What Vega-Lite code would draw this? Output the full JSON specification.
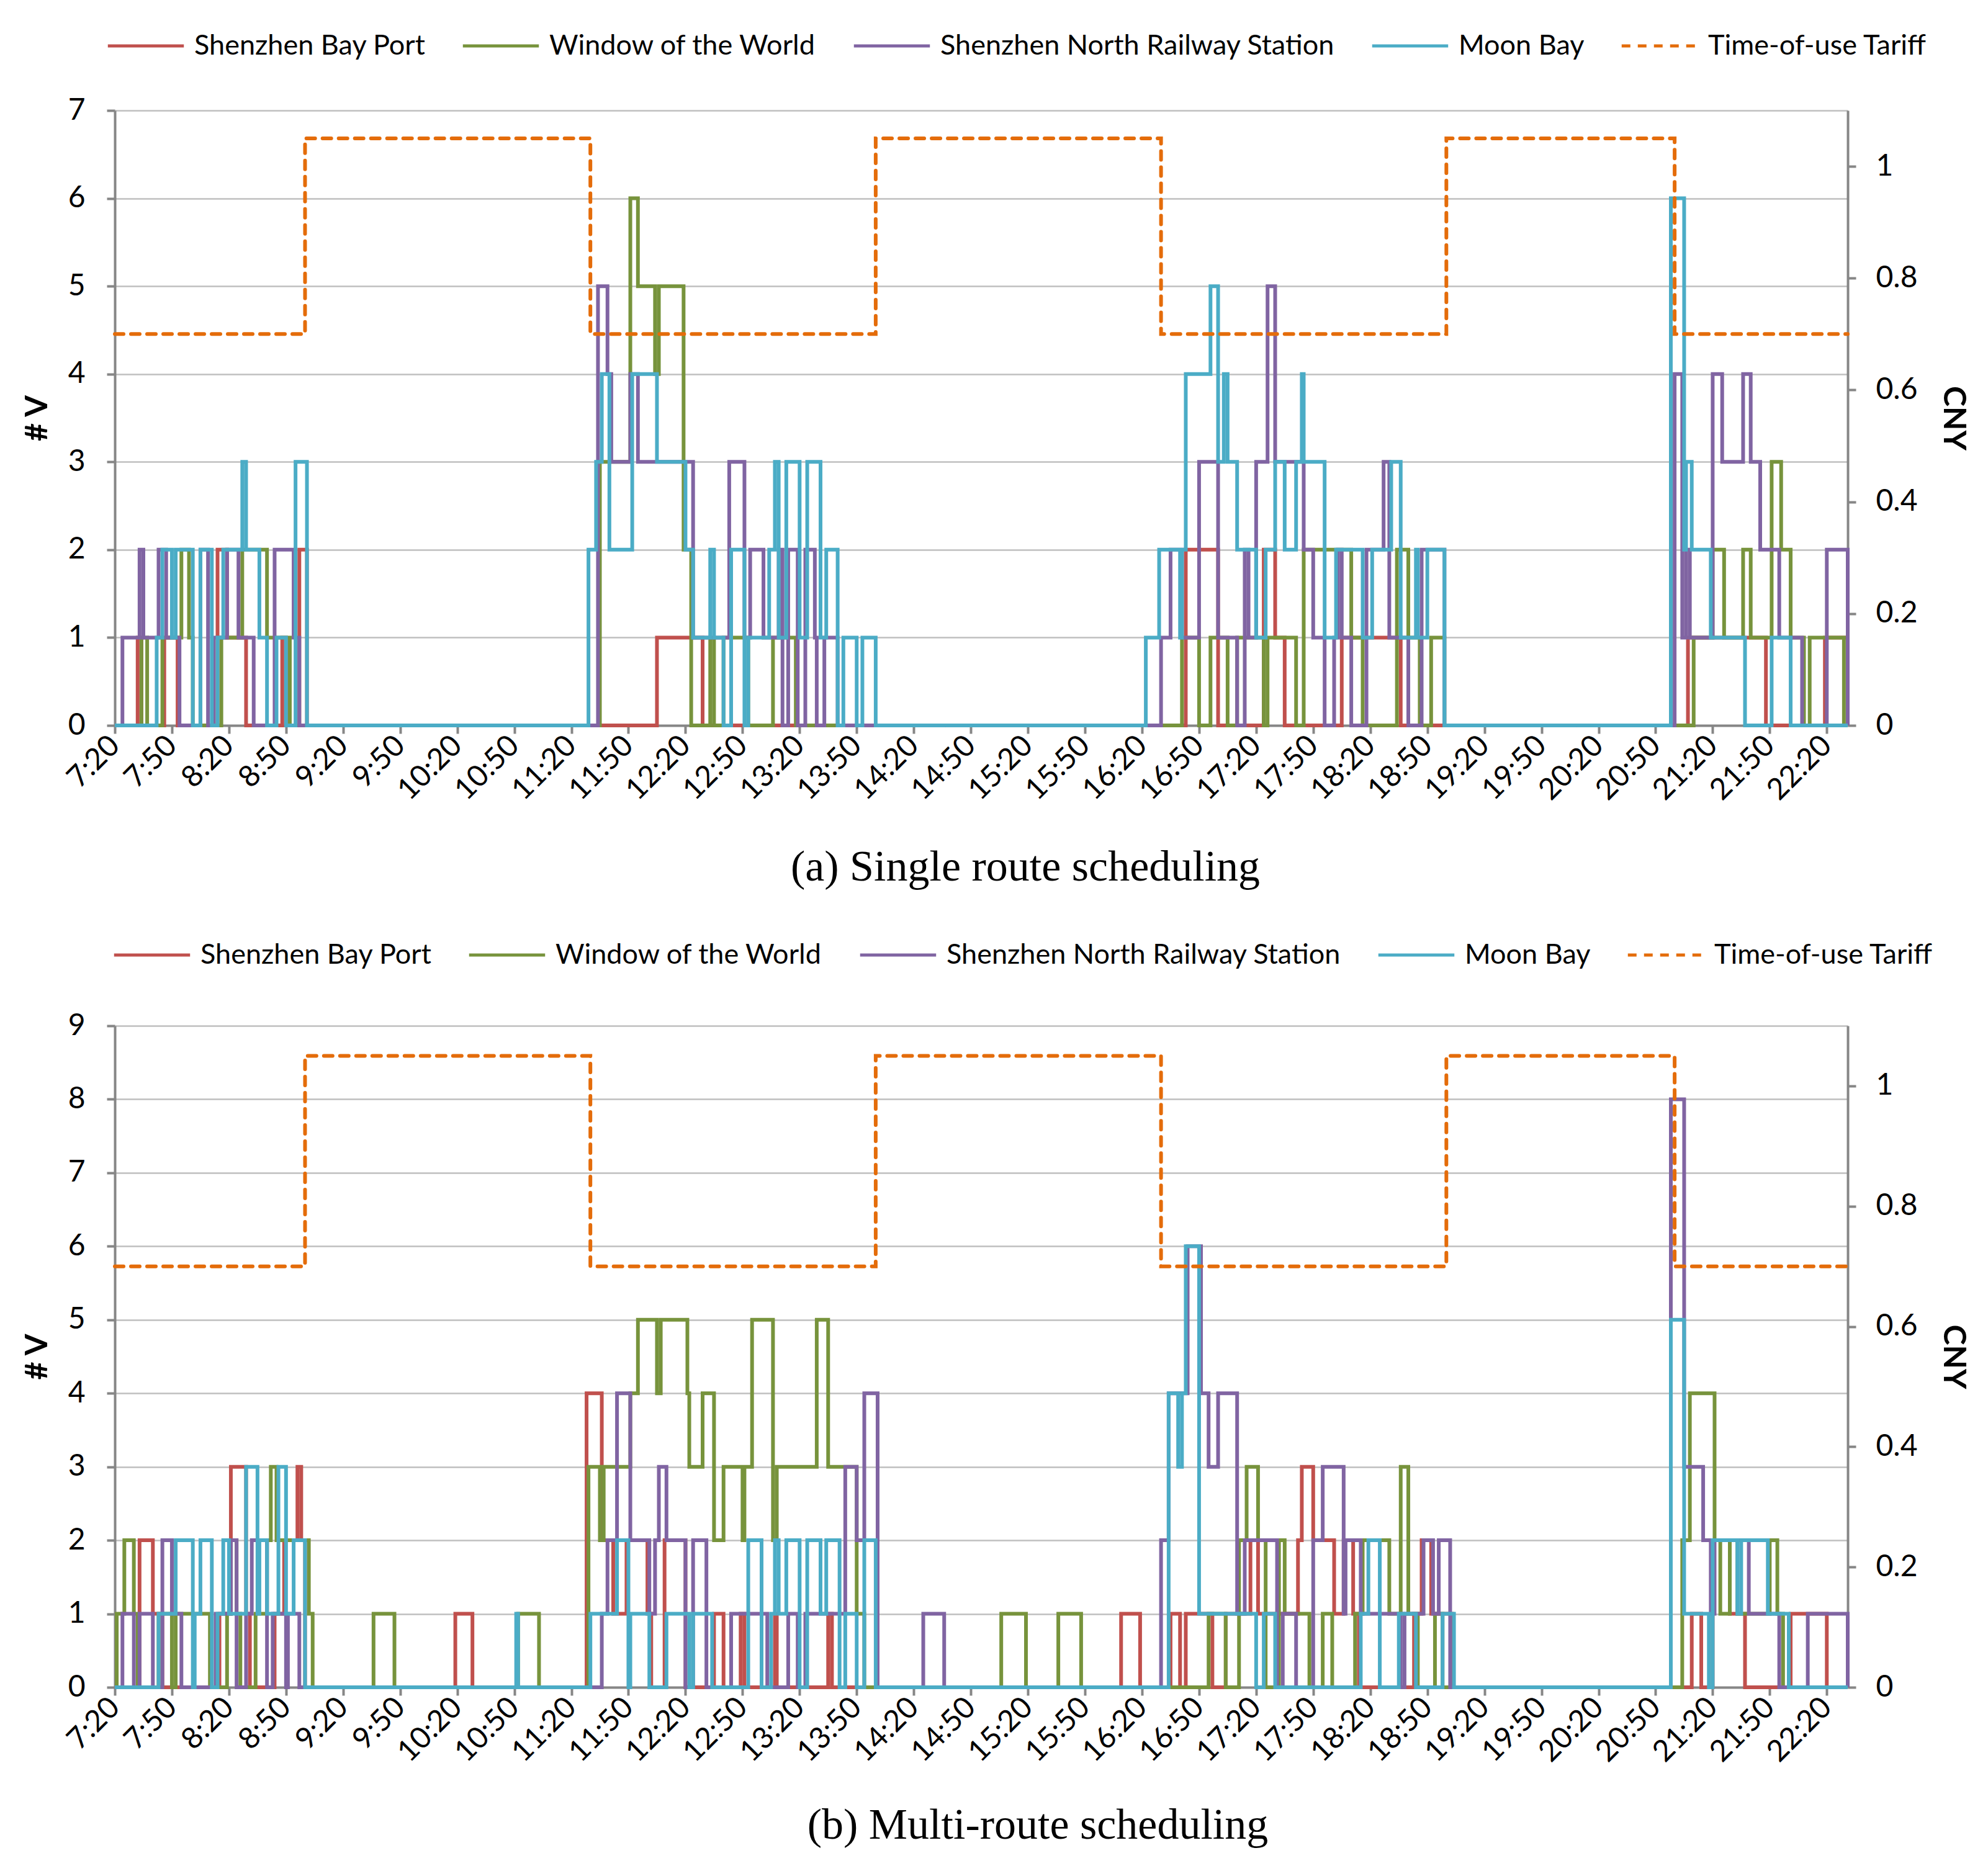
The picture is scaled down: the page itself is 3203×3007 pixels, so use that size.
{
  "$schema": "https://vega.github.io/schema/vega-lite/v6.json",
  "background": "white",
  "padding": {"left": 35, "top": 10, "right": 10, "bottom": 20},
  "spacing": 41,
  "datasets": {
    "tariff": [
      {"s": "Time-of-use Tariff", "m": 0, "p": 0.7},
      {"s": "Time-of-use Tariff", "m": 100, "p": 1.05},
      {"s": "Time-of-use Tariff", "m": 250, "p": 0.7},
      {"s": "Time-of-use Tariff", "m": 400, "p": 1.05},
      {"s": "Time-of-use Tariff", "m": 550, "p": 0.7},
      {"s": "Time-of-use Tariff", "m": 700, "p": 1.05},
      {"s": "Time-of-use Tariff", "m": 820, "p": 0.7},
      {"s": "Time-of-use Tariff", "m": 911, "p": 0.7}
    ],
    "a": [
      {"s": "Shenzhen Bay Port", "m": 0, "v": 0},
      {"s": "Shenzhen Bay Port", "m": 12, "v": 1},
      {"s": "Shenzhen Bay Port", "m": 14, "v": 0},
      {"s": "Shenzhen Bay Port", "m": 26, "v": 1},
      {"s": "Shenzhen Bay Port", "m": 33, "v": 0},
      {"s": "Shenzhen Bay Port", "m": 54, "v": 2},
      {"s": "Shenzhen Bay Port", "m": 59, "v": 1},
      {"s": "Shenzhen Bay Port", "m": 69, "v": 0},
      {"s": "Shenzhen Bay Port", "m": 88, "v": 1},
      {"s": "Shenzhen Bay Port", "m": 90, "v": 0},
      {"s": "Shenzhen Bay Port", "m": 97, "v": 2},
      {"s": "Shenzhen Bay Port", "m": 101, "v": 0},
      {"s": "Shenzhen Bay Port", "m": 285, "v": 1},
      {"s": "Shenzhen Bay Port", "m": 309, "v": 0},
      {"s": "Shenzhen Bay Port", "m": 563, "v": 2},
      {"s": "Shenzhen Bay Port", "m": 580, "v": 0},
      {"s": "Shenzhen Bay Port", "m": 604, "v": 2},
      {"s": "Shenzhen Bay Port", "m": 610, "v": 1},
      {"s": "Shenzhen Bay Port", "m": 615, "v": 0},
      {"s": "Shenzhen Bay Port", "m": 645, "v": 1},
      {"s": "Shenzhen Bay Port", "m": 676, "v": 0},
      {"s": "Shenzhen Bay Port", "m": 827, "v": 1},
      {"s": "Shenzhen Bay Port", "m": 868, "v": 0},
      {"s": "Shenzhen Bay Port", "m": 899, "v": 1},
      {"s": "Shenzhen Bay Port", "m": 911, "v": 1},

      {"s": "Window of the World", "m": 0, "v": 0},
      {"s": "Window of the World", "m": 14, "v": 1},
      {"s": "Window of the World", "m": 17, "v": 0},
      {"s": "Window of the World", "m": 25, "v": 1},
      {"s": "Window of the World", "m": 35, "v": 2},
      {"s": "Window of the World", "m": 39, "v": 1},
      {"s": "Window of the World", "m": 41, "v": 0},
      {"s": "Window of the World", "m": 56, "v": 1},
      {"s": "Window of the World", "m": 67, "v": 2},
      {"s": "Window of the World", "m": 80, "v": 1},
      {"s": "Window of the World", "m": 92, "v": 0},
      {"s": "Window of the World", "m": 255, "v": 3},
      {"s": "Window of the World", "m": 271, "v": 6},
      {"s": "Window of the World", "m": 275, "v": 5},
      {"s": "Window of the World", "m": 284, "v": 4},
      {"s": "Window of the World", "m": 286, "v": 5},
      {"s": "Window of the World", "m": 299, "v": 2},
      {"s": "Window of the World", "m": 303, "v": 0},
      {"s": "Window of the World", "m": 313, "v": 1},
      {"s": "Window of the World", "m": 315, "v": 0},
      {"s": "Window of the World", "m": 320, "v": 1},
      {"s": "Window of the World", "m": 333, "v": 0},
      {"s": "Window of the World", "m": 346, "v": 1},
      {"s": "Window of the World", "m": 358, "v": 0},
      {"s": "Window of the World", "m": 561, "v": 1},
      {"s": "Window of the World", "m": 570, "v": 0},
      {"s": "Window of the World", "m": 576, "v": 1},
      {"s": "Window of the World", "m": 585, "v": 0},
      {"s": "Window of the World", "m": 590, "v": 1},
      {"s": "Window of the World", "m": 604, "v": 0},
      {"s": "Window of the World", "m": 606, "v": 1},
      {"s": "Window of the World", "m": 621, "v": 0},
      {"s": "Window of the World", "m": 625, "v": 2},
      {"s": "Window of the World", "m": 650, "v": 1},
      {"s": "Window of the World", "m": 656, "v": 0},
      {"s": "Window of the World", "m": 674, "v": 2},
      {"s": "Window of the World", "m": 680, "v": 1},
      {"s": "Window of the World", "m": 686, "v": 0},
      {"s": "Window of the World", "m": 692, "v": 1},
      {"s": "Window of the World", "m": 699, "v": 0},
      {"s": "Window of the World", "m": 830, "v": 1},
      {"s": "Window of the World", "m": 840, "v": 2},
      {"s": "Window of the World", "m": 846, "v": 1},
      {"s": "Window of the World", "m": 856, "v": 2},
      {"s": "Window of the World", "m": 860, "v": 1},
      {"s": "Window of the World", "m": 871, "v": 3},
      {"s": "Window of the World", "m": 876, "v": 2},
      {"s": "Window of the World", "m": 881, "v": 1},
      {"s": "Window of the World", "m": 888, "v": 0},
      {"s": "Window of the World", "m": 891, "v": 1},
      {"s": "Window of the World", "m": 909, "v": 0},
      {"s": "Window of the World", "m": 911, "v": 0},

      {"s": "Shenzhen North Railway Station", "m": 0, "v": 0},
      {"s": "Shenzhen North Railway Station", "m": 4, "v": 1},
      {"s": "Shenzhen North Railway Station", "m": 13, "v": 2},
      {"s": "Shenzhen North Railway Station", "m": 15, "v": 1},
      {"s": "Shenzhen North Railway Station", "m": 23, "v": 2},
      {"s": "Shenzhen North Railway Station", "m": 27, "v": 1},
      {"s": "Shenzhen North Railway Station", "m": 34, "v": 0},
      {"s": "Shenzhen North Railway Station", "m": 45, "v": 2},
      {"s": "Shenzhen North Railway Station", "m": 49, "v": 0},
      {"s": "Shenzhen North Railway Station", "m": 52, "v": 1},
      {"s": "Shenzhen North Railway Station", "m": 59, "v": 2},
      {"s": "Shenzhen North Railway Station", "m": 65, "v": 1},
      {"s": "Shenzhen North Railway Station", "m": 73, "v": 0},
      {"s": "Shenzhen North Railway Station", "m": 84, "v": 2},
      {"s": "Shenzhen North Railway Station", "m": 94, "v": 1},
      {"s": "Shenzhen North Railway Station", "m": 97, "v": 0},
      {"s": "Shenzhen North Railway Station", "m": 254, "v": 5},
      {"s": "Shenzhen North Railway Station", "m": 259, "v": 4},
      {"s": "Shenzhen North Railway Station", "m": 261, "v": 3},
      {"s": "Shenzhen North Railway Station", "m": 271, "v": 4},
      {"s": "Shenzhen North Railway Station", "m": 275, "v": 3},
      {"s": "Shenzhen North Railway Station", "m": 304, "v": 1},
      {"s": "Shenzhen North Railway Station", "m": 323, "v": 3},
      {"s": "Shenzhen North Railway Station", "m": 331, "v": 1},
      {"s": "Shenzhen North Railway Station", "m": 334, "v": 2},
      {"s": "Shenzhen North Railway Station", "m": 341, "v": 1},
      {"s": "Shenzhen North Railway Station", "m": 349, "v": 2},
      {"s": "Shenzhen North Railway Station", "m": 351, "v": 0},
      {"s": "Shenzhen North Railway Station", "m": 354, "v": 2},
      {"s": "Shenzhen North Railway Station", "m": 359, "v": 0},
      {"s": "Shenzhen North Railway Station", "m": 363, "v": 2},
      {"s": "Shenzhen North Railway Station", "m": 368, "v": 1},
      {"s": "Shenzhen North Railway Station", "m": 369, "v": 0},
      {"s": "Shenzhen North Railway Station", "m": 373, "v": 1},
      {"s": "Shenzhen North Railway Station", "m": 380, "v": 0},
      {"s": "Shenzhen North Railway Station", "m": 550, "v": 1},
      {"s": "Shenzhen North Railway Station", "m": 555, "v": 2},
      {"s": "Shenzhen North Railway Station", "m": 561, "v": 1},
      {"s": "Shenzhen North Railway Station", "m": 570, "v": 3},
      {"s": "Shenzhen North Railway Station", "m": 580, "v": 1},
      {"s": "Shenzhen North Railway Station", "m": 590, "v": 0},
      {"s": "Shenzhen North Railway Station", "m": 594, "v": 2},
      {"s": "Shenzhen North Railway Station", "m": 596, "v": 1},
      {"s": "Shenzhen North Railway Station", "m": 600, "v": 3},
      {"s": "Shenzhen North Railway Station", "m": 606, "v": 5},
      {"s": "Shenzhen North Railway Station", "m": 610, "v": 3},
      {"s": "Shenzhen North Railway Station", "m": 625, "v": 2},
      {"s": "Shenzhen North Railway Station", "m": 630, "v": 1},
      {"s": "Shenzhen North Railway Station", "m": 636, "v": 0},
      {"s": "Shenzhen North Railway Station", "m": 641, "v": 1},
      {"s": "Shenzhen North Railway Station", "m": 643, "v": 2},
      {"s": "Shenzhen North Railway Station", "m": 645, "v": 1},
      {"s": "Shenzhen North Railway Station", "m": 650, "v": 0},
      {"s": "Shenzhen North Railway Station", "m": 658, "v": 2},
      {"s": "Shenzhen North Railway Station", "m": 667, "v": 3},
      {"s": "Shenzhen North Railway Station", "m": 670, "v": 1},
      {"s": "Shenzhen North Railway Station", "m": 680, "v": 0},
      {"s": "Shenzhen North Railway Station", "m": 687, "v": 2},
      {"s": "Shenzhen North Railway Station", "m": 699, "v": 0},
      {"s": "Shenzhen North Railway Station", "m": 820, "v": 4},
      {"s": "Shenzhen North Railway Station", "m": 824, "v": 1},
      {"s": "Shenzhen North Railway Station", "m": 826, "v": 2},
      {"s": "Shenzhen North Railway Station", "m": 828, "v": 1},
      {"s": "Shenzhen North Railway Station", "m": 840, "v": 4},
      {"s": "Shenzhen North Railway Station", "m": 845, "v": 3},
      {"s": "Shenzhen North Railway Station", "m": 856, "v": 4},
      {"s": "Shenzhen North Railway Station", "m": 860, "v": 3},
      {"s": "Shenzhen North Railway Station", "m": 865, "v": 2},
      {"s": "Shenzhen North Railway Station", "m": 875, "v": 1},
      {"s": "Shenzhen North Railway Station", "m": 887, "v": 0},
      {"s": "Shenzhen North Railway Station", "m": 900, "v": 2},
      {"s": "Shenzhen North Railway Station", "m": 911, "v": 0},

      {"s": "Moon Bay", "m": 0, "v": 0},
      {"s": "Moon Bay", "m": 22, "v": 1},
      {"s": "Moon Bay", "m": 25, "v": 2},
      {"s": "Moon Bay", "m": 30, "v": 1},
      {"s": "Moon Bay", "m": 32, "v": 2},
      {"s": "Moon Bay", "m": 41, "v": 0},
      {"s": "Moon Bay", "m": 45, "v": 2},
      {"s": "Moon Bay", "m": 51, "v": 0},
      {"s": "Moon Bay", "m": 54, "v": 1},
      {"s": "Moon Bay", "m": 57, "v": 2},
      {"s": "Moon Bay", "m": 67, "v": 3},
      {"s": "Moon Bay", "m": 69, "v": 2},
      {"s": "Moon Bay", "m": 76, "v": 1},
      {"s": "Moon Bay", "m": 80, "v": 0},
      {"s": "Moon Bay", "m": 85, "v": 1},
      {"s": "Moon Bay", "m": 90, "v": 0},
      {"s": "Moon Bay", "m": 95, "v": 3},
      {"s": "Moon Bay", "m": 101, "v": 0},
      {"s": "Moon Bay", "m": 249, "v": 2},
      {"s": "Moon Bay", "m": 253, "v": 3},
      {"s": "Moon Bay", "m": 256, "v": 4},
      {"s": "Moon Bay", "m": 260, "v": 2},
      {"s": "Moon Bay", "m": 272, "v": 4},
      {"s": "Moon Bay", "m": 285, "v": 3},
      {"s": "Moon Bay", "m": 300, "v": 2},
      {"s": "Moon Bay", "m": 304, "v": 1},
      {"s": "Moon Bay", "m": 313, "v": 2},
      {"s": "Moon Bay", "m": 315, "v": 1},
      {"s": "Moon Bay", "m": 320, "v": 0},
      {"s": "Moon Bay", "m": 324, "v": 2},
      {"s": "Moon Bay", "m": 331, "v": 0},
      {"s": "Moon Bay", "m": 333, "v": 1},
      {"s": "Moon Bay", "m": 344, "v": 2},
      {"s": "Moon Bay", "m": 347, "v": 3},
      {"s": "Moon Bay", "m": 349, "v": 1},
      {"s": "Moon Bay", "m": 353, "v": 3},
      {"s": "Moon Bay", "m": 360, "v": 1},
      {"s": "Moon Bay", "m": 364, "v": 3},
      {"s": "Moon Bay", "m": 371, "v": 1},
      {"s": "Moon Bay", "m": 374, "v": 2},
      {"s": "Moon Bay", "m": 380, "v": 0},
      {"s": "Moon Bay", "m": 383, "v": 1},
      {"s": "Moon Bay", "m": 390, "v": 0},
      {"s": "Moon Bay", "m": 393, "v": 1},
      {"s": "Moon Bay", "m": 400, "v": 0},
      {"s": "Moon Bay", "m": 542, "v": 1},
      {"s": "Moon Bay", "m": 549, "v": 2},
      {"s": "Moon Bay", "m": 560, "v": 1},
      {"s": "Moon Bay", "m": 561, "v": 2},
      {"s": "Moon Bay", "m": 563, "v": 4},
      {"s": "Moon Bay", "m": 576, "v": 5},
      {"s": "Moon Bay", "m": 580, "v": 3},
      {"s": "Moon Bay", "m": 583, "v": 4},
      {"s": "Moon Bay", "m": 585, "v": 3},
      {"s": "Moon Bay", "m": 590, "v": 2},
      {"s": "Moon Bay", "m": 600, "v": 1},
      {"s": "Moon Bay", "m": 605, "v": 2},
      {"s": "Moon Bay", "m": 610, "v": 3},
      {"s": "Moon Bay", "m": 615, "v": 2},
      {"s": "Moon Bay", "m": 621, "v": 3},
      {"s": "Moon Bay", "m": 624, "v": 4},
      {"s": "Moon Bay", "m": 625, "v": 3},
      {"s": "Moon Bay", "m": 636, "v": 1},
      {"s": "Moon Bay", "m": 642, "v": 2},
      {"s": "Moon Bay", "m": 656, "v": 1},
      {"s": "Moon Bay", "m": 661, "v": 2},
      {"s": "Moon Bay", "m": 671, "v": 3},
      {"s": "Moon Bay", "m": 676, "v": 1},
      {"s": "Moon Bay", "m": 684, "v": 2},
      {"s": "Moon Bay", "m": 685, "v": 1},
      {"s": "Moon Bay", "m": 690, "v": 2},
      {"s": "Moon Bay", "m": 699, "v": 0},
      {"s": "Moon Bay", "m": 818, "v": 6},
      {"s": "Moon Bay", "m": 825, "v": 2},
      {"s": "Moon Bay", "m": 826, "v": 3},
      {"s": "Moon Bay", "m": 829, "v": 2},
      {"s": "Moon Bay", "m": 839, "v": 1},
      {"s": "Moon Bay", "m": 857, "v": 0},
      {"s": "Moon Bay", "m": 871, "v": 1},
      {"s": "Moon Bay", "m": 881, "v": 0},
      {"s": "Moon Bay", "m": 911, "v": 0}
    ],
    "b": [
      {"s": "Shenzhen Bay Port", "m": 0, "v": 0},
      {"s": "Shenzhen Bay Port", "m": 13, "v": 2},
      {"s": "Shenzhen Bay Port", "m": 20, "v": 1},
      {"s": "Shenzhen Bay Port", "m": 25, "v": 0},
      {"s": "Shenzhen Bay Port", "m": 55, "v": 1},
      {"s": "Shenzhen Bay Port", "m": 61, "v": 3},
      {"s": "Shenzhen Bay Port", "m": 69, "v": 1},
      {"s": "Shenzhen Bay Port", "m": 71, "v": 0},
      {"s": "Shenzhen Bay Port", "m": 84, "v": 1},
      {"s": "Shenzhen Bay Port", "m": 89, "v": 2},
      {"s": "Shenzhen Bay Port", "m": 96, "v": 3},
      {"s": "Shenzhen Bay Port", "m": 98, "v": 2},
      {"s": "Shenzhen Bay Port", "m": 100, "v": 0},
      {"s": "Shenzhen Bay Port", "m": 179, "v": 1},
      {"s": "Shenzhen Bay Port", "m": 188, "v": 0},
      {"s": "Shenzhen Bay Port", "m": 248, "v": 4},
      {"s": "Shenzhen Bay Port", "m": 256, "v": 2},
      {"s": "Shenzhen Bay Port", "m": 262, "v": 1},
      {"s": "Shenzhen Bay Port", "m": 269, "v": 2},
      {"s": "Shenzhen Bay Port", "m": 280, "v": 1},
      {"s": "Shenzhen Bay Port", "m": 282, "v": 0},
      {"s": "Shenzhen Bay Port", "m": 289, "v": 2},
      {"s": "Shenzhen Bay Port", "m": 300, "v": 0},
      {"s": "Shenzhen Bay Port", "m": 315, "v": 1},
      {"s": "Shenzhen Bay Port", "m": 320, "v": 0},
      {"s": "Shenzhen Bay Port", "m": 329, "v": 1},
      {"s": "Shenzhen Bay Port", "m": 331, "v": 0},
      {"s": "Shenzhen Bay Port", "m": 347, "v": 1},
      {"s": "Shenzhen Bay Port", "m": 348, "v": 0},
      {"s": "Shenzhen Bay Port", "m": 375, "v": 1},
      {"s": "Shenzhen Bay Port", "m": 377, "v": 0},
      {"s": "Shenzhen Bay Port", "m": 529, "v": 1},
      {"s": "Shenzhen Bay Port", "m": 539, "v": 0},
      {"s": "Shenzhen Bay Port", "m": 555, "v": 1},
      {"s": "Shenzhen Bay Port", "m": 560, "v": 0},
      {"s": "Shenzhen Bay Port", "m": 563, "v": 1},
      {"s": "Shenzhen Bay Port", "m": 577, "v": 0},
      {"s": "Shenzhen Bay Port", "m": 584, "v": 1},
      {"s": "Shenzhen Bay Port", "m": 597, "v": 2},
      {"s": "Shenzhen Bay Port", "m": 601, "v": 1},
      {"s": "Shenzhen Bay Port", "m": 622, "v": 2},
      {"s": "Shenzhen Bay Port", "m": 624, "v": 3},
      {"s": "Shenzhen Bay Port", "m": 630, "v": 2},
      {"s": "Shenzhen Bay Port", "m": 641, "v": 1},
      {"s": "Shenzhen Bay Port", "m": 646, "v": 2},
      {"s": "Shenzhen Bay Port", "m": 651, "v": 1},
      {"s": "Shenzhen Bay Port", "m": 654, "v": 0},
      {"s": "Shenzhen Bay Port", "m": 683, "v": 1},
      {"s": "Shenzhen Bay Port", "m": 687, "v": 2},
      {"s": "Shenzhen Bay Port", "m": 692, "v": 1},
      {"s": "Shenzhen Bay Port", "m": 703, "v": 0},
      {"s": "Shenzhen Bay Port", "m": 829, "v": 1},
      {"s": "Shenzhen Bay Port", "m": 834, "v": 0},
      {"s": "Shenzhen Bay Port", "m": 840, "v": 2},
      {"s": "Shenzhen Bay Port", "m": 849, "v": 1},
      {"s": "Shenzhen Bay Port", "m": 857, "v": 0},
      {"s": "Shenzhen Bay Port", "m": 881, "v": 1},
      {"s": "Shenzhen Bay Port", "m": 900, "v": 0},
      {"s": "Shenzhen Bay Port", "m": 911, "v": 0},

      {"s": "Window of the World", "m": 0, "v": 0},
      {"s": "Window of the World", "m": 1, "v": 1},
      {"s": "Window of the World", "m": 5, "v": 2},
      {"s": "Window of the World", "m": 10, "v": 1},
      {"s": "Window of the World", "m": 12, "v": 0},
      {"s": "Window of the World", "m": 23, "v": 1},
      {"s": "Window of the World", "m": 30, "v": 0},
      {"s": "Window of the World", "m": 32, "v": 1},
      {"s": "Window of the World", "m": 50, "v": 0},
      {"s": "Window of the World", "m": 59, "v": 1},
      {"s": "Window of the World", "m": 61, "v": 2},
      {"s": "Window of the World", "m": 64, "v": 1},
      {"s": "Window of the World", "m": 66, "v": 0},
      {"s": "Window of the World", "m": 74, "v": 1},
      {"s": "Window of the World", "m": 80, "v": 2},
      {"s": "Window of the World", "m": 82, "v": 3},
      {"s": "Window of the World", "m": 85, "v": 2},
      {"s": "Window of the World", "m": 102, "v": 1},
      {"s": "Window of the World", "m": 104, "v": 0},
      {"s": "Window of the World", "m": 136, "v": 1},
      {"s": "Window of the World", "m": 147, "v": 0},
      {"s": "Window of the World", "m": 212, "v": 1},
      {"s": "Window of the World", "m": 223, "v": 0},
      {"s": "Window of the World", "m": 249, "v": 3},
      {"s": "Window of the World", "m": 255, "v": 2},
      {"s": "Window of the World", "m": 257, "v": 3},
      {"s": "Window of the World", "m": 271, "v": 4},
      {"s": "Window of the World", "m": 275, "v": 5},
      {"s": "Window of the World", "m": 285, "v": 4},
      {"s": "Window of the World", "m": 287, "v": 5},
      {"s": "Window of the World", "m": 301, "v": 4},
      {"s": "Window of the World", "m": 302, "v": 3},
      {"s": "Window of the World", "m": 309, "v": 4},
      {"s": "Window of the World", "m": 315, "v": 2},
      {"s": "Window of the World", "m": 320, "v": 3},
      {"s": "Window of the World", "m": 330, "v": 2},
      {"s": "Window of the World", "m": 331, "v": 3},
      {"s": "Window of the World", "m": 335, "v": 5},
      {"s": "Window of the World", "m": 346, "v": 2},
      {"s": "Window of the World", "m": 348, "v": 3},
      {"s": "Window of the World", "m": 369, "v": 5},
      {"s": "Window of the World", "m": 375, "v": 3},
      {"s": "Window of the World", "m": 390, "v": 1},
      {"s": "Window of the World", "m": 394, "v": 0},
      {"s": "Window of the World", "m": 466, "v": 1},
      {"s": "Window of the World", "m": 479, "v": 0},
      {"s": "Window of the World", "m": 496, "v": 1},
      {"s": "Window of the World", "m": 508, "v": 0},
      {"s": "Window of the World", "m": 575, "v": 1},
      {"s": "Window of the World", "m": 584, "v": 0},
      {"s": "Window of the World", "m": 591, "v": 2},
      {"s": "Window of the World", "m": 595, "v": 3},
      {"s": "Window of the World", "m": 601, "v": 2},
      {"s": "Window of the World", "m": 605, "v": 0},
      {"s": "Window of the World", "m": 612, "v": 2},
      {"s": "Window of the World", "m": 615, "v": 1},
      {"s": "Window of the World", "m": 628, "v": 0},
      {"s": "Window of the World", "m": 635, "v": 1},
      {"s": "Window of the World", "m": 640, "v": 0},
      {"s": "Window of the World", "m": 652, "v": 1},
      {"s": "Window of the World", "m": 656, "v": 2},
      {"s": "Window of the World", "m": 670, "v": 1},
      {"s": "Window of the World", "m": 676, "v": 3},
      {"s": "Window of the World", "m": 680, "v": 1},
      {"s": "Window of the World", "m": 685, "v": 0},
      {"s": "Window of the World", "m": 694, "v": 1},
      {"s": "Window of the World", "m": 698, "v": 0},
      {"s": "Window of the World", "m": 824, "v": 2},
      {"s": "Window of the World", "m": 828, "v": 4},
      {"s": "Window of the World", "m": 841, "v": 2},
      {"s": "Window of the World", "m": 844, "v": 1},
      {"s": "Window of the World", "m": 849, "v": 2},
      {"s": "Window of the World", "m": 853, "v": 1},
      {"s": "Window of the World", "m": 870, "v": 2},
      {"s": "Window of the World", "m": 874, "v": 1},
      {"s": "Window of the World", "m": 877, "v": 0},
      {"s": "Window of the World", "m": 911, "v": 0},

      {"s": "Shenzhen North Railway Station", "m": 0, "v": 0},
      {"s": "Shenzhen North Railway Station", "m": 4, "v": 1},
      {"s": "Shenzhen North Railway Station", "m": 10, "v": 0},
      {"s": "Shenzhen North Railway Station", "m": 13, "v": 1},
      {"s": "Shenzhen North Railway Station", "m": 20, "v": 0},
      {"s": "Shenzhen North Railway Station", "m": 25, "v": 2},
      {"s": "Shenzhen North Railway Station", "m": 30, "v": 1},
      {"s": "Shenzhen North Railway Station", "m": 35, "v": 0},
      {"s": "Shenzhen North Railway Station", "m": 53, "v": 1},
      {"s": "Shenzhen North Railway Station", "m": 61, "v": 2},
      {"s": "Shenzhen North Railway Station", "m": 64, "v": 0},
      {"s": "Shenzhen North Railway Station", "m": 69, "v": 1},
      {"s": "Shenzhen North Railway Station", "m": 72, "v": 2},
      {"s": "Shenzhen North Railway Station", "m": 80, "v": 0},
      {"s": "Shenzhen North Railway Station", "m": 83, "v": 1},
      {"s": "Shenzhen North Railway Station", "m": 90, "v": 0},
      {"s": "Shenzhen North Railway Station", "m": 91, "v": 1},
      {"s": "Shenzhen North Railway Station", "m": 97, "v": 0},
      {"s": "Shenzhen North Railway Station", "m": 256, "v": 1},
      {"s": "Shenzhen North Railway Station", "m": 259, "v": 2},
      {"s": "Shenzhen North Railway Station", "m": 264, "v": 4},
      {"s": "Shenzhen North Railway Station", "m": 271, "v": 2},
      {"s": "Shenzhen North Railway Station", "m": 281, "v": 1},
      {"s": "Shenzhen North Railway Station", "m": 284, "v": 2},
      {"s": "Shenzhen North Railway Station", "m": 286, "v": 3},
      {"s": "Shenzhen North Railway Station", "m": 290, "v": 2},
      {"s": "Shenzhen North Railway Station", "m": 300, "v": 0},
      {"s": "Shenzhen North Railway Station", "m": 304, "v": 2},
      {"s": "Shenzhen North Railway Station", "m": 311, "v": 0},
      {"s": "Shenzhen North Railway Station", "m": 324, "v": 1},
      {"s": "Shenzhen North Railway Station", "m": 343, "v": 0},
      {"s": "Shenzhen North Railway Station", "m": 354, "v": 1},
      {"s": "Shenzhen North Railway Station", "m": 359, "v": 0},
      {"s": "Shenzhen North Railway Station", "m": 363, "v": 1},
      {"s": "Shenzhen North Railway Station", "m": 384, "v": 3},
      {"s": "Shenzhen North Railway Station", "m": 390, "v": 2},
      {"s": "Shenzhen North Railway Station", "m": 394, "v": 4},
      {"s": "Shenzhen North Railway Station", "m": 401, "v": 0},
      {"s": "Shenzhen North Railway Station", "m": 425, "v": 1},
      {"s": "Shenzhen North Railway Station", "m": 436, "v": 0},
      {"s": "Shenzhen North Railway Station", "m": 550, "v": 2},
      {"s": "Shenzhen North Railway Station", "m": 554, "v": 4},
      {"s": "Shenzhen North Railway Station", "m": 564, "v": 6},
      {"s": "Shenzhen North Railway Station", "m": 571, "v": 4},
      {"s": "Shenzhen North Railway Station", "m": 575, "v": 3},
      {"s": "Shenzhen North Railway Station", "m": 580, "v": 4},
      {"s": "Shenzhen North Railway Station", "m": 590, "v": 1},
      {"s": "Shenzhen North Railway Station", "m": 594, "v": 2},
      {"s": "Shenzhen North Railway Station", "m": 611, "v": 0},
      {"s": "Shenzhen North Railway Station", "m": 614, "v": 1},
      {"s": "Shenzhen North Railway Station", "m": 621, "v": 0},
      {"s": "Shenzhen North Railway Station", "m": 630, "v": 2},
      {"s": "Shenzhen North Railway Station", "m": 635, "v": 3},
      {"s": "Shenzhen North Railway Station", "m": 646, "v": 1},
      {"s": "Shenzhen North Railway Station", "m": 647, "v": 2},
      {"s": "Shenzhen North Railway Station", "m": 655, "v": 1},
      {"s": "Shenzhen North Railway Station", "m": 676, "v": 0},
      {"s": "Shenzhen North Railway Station", "m": 678, "v": 1},
      {"s": "Shenzhen North Railway Station", "m": 688, "v": 2},
      {"s": "Shenzhen North Railway Station", "m": 693, "v": 1},
      {"s": "Shenzhen North Railway Station", "m": 696, "v": 2},
      {"s": "Shenzhen North Railway Station", "m": 702, "v": 0},
      {"s": "Shenzhen North Railway Station", "m": 818, "v": 8},
      {"s": "Shenzhen North Railway Station", "m": 825, "v": 3},
      {"s": "Shenzhen North Railway Station", "m": 835, "v": 2},
      {"s": "Shenzhen North Railway Station", "m": 839, "v": 1},
      {"s": "Shenzhen North Railway Station", "m": 841, "v": 2},
      {"s": "Shenzhen North Railway Station", "m": 859, "v": 1},
      {"s": "Shenzhen North Railway Station", "m": 875, "v": 0},
      {"s": "Shenzhen North Railway Station", "m": 890, "v": 1},
      {"s": "Shenzhen North Railway Station", "m": 911, "v": 0},

      {"s": "Moon Bay", "m": 0, "v": 0},
      {"s": "Moon Bay", "m": 23, "v": 1},
      {"s": "Moon Bay", "m": 32, "v": 2},
      {"s": "Moon Bay", "m": 41, "v": 0},
      {"s": "Moon Bay", "m": 42, "v": 1},
      {"s": "Moon Bay", "m": 45, "v": 2},
      {"s": "Moon Bay", "m": 51, "v": 0},
      {"s": "Moon Bay", "m": 54, "v": 1},
      {"s": "Moon Bay", "m": 57, "v": 2},
      {"s": "Moon Bay", "m": 60, "v": 1},
      {"s": "Moon Bay", "m": 69, "v": 3},
      {"s": "Moon Bay", "m": 75, "v": 1},
      {"s": "Moon Bay", "m": 76, "v": 2},
      {"s": "Moon Bay", "m": 80, "v": 1},
      {"s": "Moon Bay", "m": 86, "v": 3},
      {"s": "Moon Bay", "m": 90, "v": 1},
      {"s": "Moon Bay", "m": 94, "v": 2},
      {"s": "Moon Bay", "m": 100, "v": 0},
      {"s": "Moon Bay", "m": 211, "v": 1},
      {"s": "Moon Bay", "m": 212, "v": 0},
      {"s": "Moon Bay", "m": 250, "v": 1},
      {"s": "Moon Bay", "m": 264, "v": 2},
      {"s": "Moon Bay", "m": 270, "v": 0},
      {"s": "Moon Bay", "m": 271, "v": 1},
      {"s": "Moon Bay", "m": 281, "v": 0},
      {"s": "Moon Bay", "m": 290, "v": 1},
      {"s": "Moon Bay", "m": 302, "v": 0},
      {"s": "Moon Bay", "m": 304, "v": 1},
      {"s": "Moon Bay", "m": 314, "v": 0},
      {"s": "Moon Bay", "m": 333, "v": 2},
      {"s": "Moon Bay", "m": 340, "v": 0},
      {"s": "Moon Bay", "m": 345, "v": 1},
      {"s": "Moon Bay", "m": 347, "v": 2},
      {"s": "Moon Bay", "m": 349, "v": 1},
      {"s": "Moon Bay", "m": 353, "v": 2},
      {"s": "Moon Bay", "m": 360, "v": 0},
      {"s": "Moon Bay", "m": 364, "v": 2},
      {"s": "Moon Bay", "m": 371, "v": 1},
      {"s": "Moon Bay", "m": 374, "v": 2},
      {"s": "Moon Bay", "m": 381, "v": 0},
      {"s": "Moon Bay", "m": 384, "v": 1},
      {"s": "Moon Bay", "m": 390, "v": 0},
      {"s": "Moon Bay", "m": 394, "v": 2},
      {"s": "Moon Bay", "m": 400, "v": 0},
      {"s": "Moon Bay", "m": 554, "v": 4},
      {"s": "Moon Bay", "m": 559, "v": 3},
      {"s": "Moon Bay", "m": 561, "v": 4},
      {"s": "Moon Bay", "m": 563, "v": 6},
      {"s": "Moon Bay", "m": 570, "v": 1},
      {"s": "Moon Bay", "m": 600, "v": 0},
      {"s": "Moon Bay", "m": 604, "v": 1},
      {"s": "Moon Bay", "m": 610, "v": 0},
      {"s": "Moon Bay", "m": 655, "v": 1},
      {"s": "Moon Bay", "m": 659, "v": 2},
      {"s": "Moon Bay", "m": 665, "v": 0},
      {"s": "Moon Bay", "m": 675, "v": 1},
      {"s": "Moon Bay", "m": 684, "v": 0},
      {"s": "Moon Bay", "m": 698, "v": 1},
      {"s": "Moon Bay", "m": 704, "v": 0},
      {"s": "Moon Bay", "m": 818, "v": 5},
      {"s": "Moon Bay", "m": 825, "v": 1},
      {"s": "Moon Bay", "m": 838, "v": 0},
      {"s": "Moon Bay", "m": 840, "v": 2},
      {"s": "Moon Bay", "m": 853, "v": 1},
      {"s": "Moon Bay", "m": 855, "v": 2},
      {"s": "Moon Bay", "m": 869, "v": 1},
      {"s": "Moon Bay", "m": 880, "v": 0},
      {"s": "Moon Bay", "m": 911, "v": 0}
    ]
  },
  "vconcat": [
    {
      "width": 2792,
      "height": 991,
      "title": {"text": "(a) Single route scheduling", "orient": "bottom", "offset": 66, "dx": 71},
      "layer": [
        {
          "data": {"name": "a"},
          "mark": {"type": "line", "interpolate": "step-after", "strokeWidth": 6},
          "encoding": {
            "x": {
              "field": "m", "type": "quantitative",
              "scale": {"domain": [0, 911], "nice": false, "zero": false},
              "axis": {
                "title": null, "grid": false,
                "values": [0, 30, 60, 90, 120, 150, 180, 210, 240, 270, 300, 330, 360, 390, 420, 450, 480, 510, 540, 570, 600, 630, 660, 690, 720, 750, 780, 810, 840, 870, 900],
                "labelExpr": "floor((datum.value + 440) / 60) + ':' + ((datum.value + 440) % 60 < 10 ? '0' : '') + (datum.value + 440) % 60",
                "labelAngle": -45, "labelAlign": "right", "labelBaseline": "middle",
                "labelPadding": 12, "labelOverlap": false
              }
            },
            "y": {
              "field": "v", "type": "quantitative",
              "scale": {"domain": [0, 7], "nice": false},
              "axis": {"title": "# V", "orient": "left", "values": [0, 1, 2, 3, 4, 5, 6, 7], "grid": true, "labelPadding": 35, "titlePadding": 24}
            },
            "color": {
              "field": "s", "type": "nominal",
              "scale": {
                "domain": ["Shenzhen Bay Port", "Window of the World", "Shenzhen North Railway Station", "Moon Bay", "Time-of-use Tariff"],
                "range": ["#C0504D", "#77933C", "#8064A2", "#4BACC6", "#E46C0A"]
              },
              "legend": {"title": null, "orient": "none", "legendX": -14, "legendY": -168, "direction": "horizontal", "columns": 5}
            },
            "strokeDash": {
              "field": "s", "type": "nominal",
              "scale": {
                "domain": ["Shenzhen Bay Port", "Window of the World", "Shenzhen North Railway Station", "Moon Bay", "Time-of-use Tariff"],
                "range": [[1, 0], [1, 0], [1, 0], [1, 0], [14, 12]]
              },
              "legend": {"title": null, "orient": "none", "legendX": -14, "legendY": -168, "direction": "horizontal", "columns": 5}
            }
          }
        },
        {
          "data": {"name": "tariff"},
          "mark": {"type": "line", "interpolate": "step-after", "strokeWidth": 6, "strokeCap": "round"},
          "encoding": {
            "x": {"field": "m", "type": "quantitative"},
            "y": {
              "field": "p", "type": "quantitative",
              "scale": {"domain": [0, 1.1], "nice": false},
              "axis": {"title": "CNY", "orient": "right", "values": [0, 0.2, 0.4, 0.6, 0.8, 1], "format": "~g", "grid": false, "labelPadding": 32, "titlePadding": 32}
            },
            "color": {"field": "s", "type": "nominal"},
            "strokeDash": {"field": "s", "type": "nominal"}
          }
        }
      ],
      "resolve": {"scale": {"y": "independent"}}
    },
    {
      "width": 2792,
      "height": 1066,
      "title": {"text": "(b) Multi-route scheduling", "orient": "bottom", "offset": 60, "dx": 91},
      "layer": [
        {
          "data": {"name": "b"},
          "mark": {"type": "line", "interpolate": "step-after", "strokeWidth": 6},
          "encoding": {
            "x": {
              "field": "m", "type": "quantitative",
              "scale": {"domain": [0, 911], "nice": false, "zero": false},
              "axis": {
                "title": null, "grid": false,
                "values": [0, 30, 60, 90, 120, 150, 180, 210, 240, 270, 300, 330, 360, 390, 420, 450, 480, 510, 540, 570, 600, 630, 660, 690, 720, 750, 780, 810, 840, 870, 900],
                "labelExpr": "floor((datum.value + 440) / 60) + ':' + ((datum.value + 440) % 60 < 10 ? '0' : '') + (datum.value + 440) % 60",
                "labelAngle": -45, "labelAlign": "right", "labelBaseline": "middle",
                "labelPadding": 12, "labelOverlap": false
              }
            },
            "y": {
              "field": "v", "type": "quantitative",
              "scale": {"domain": [0, 9], "nice": false},
              "axis": {"title": "# V", "orient": "left", "values": [0, 1, 2, 3, 4, 5, 6, 7, 8, 9], "grid": true, "labelPadding": 35, "titlePadding": 24}
            },
            "color": {
              "field": "s", "type": "nominal",
              "scale": {
                "domain": ["Shenzhen Bay Port", "Window of the World", "Shenzhen North Railway Station", "Moon Bay", "Time-of-use Tariff"],
                "range": ["#C0504D", "#77933C", "#8064A2", "#4BACC6", "#E46C0A"]
              },
              "legend": {"title": null, "orient": "none", "legendX": -4, "legendY": -178, "direction": "horizontal", "columns": 5}
            },
            "strokeDash": {
              "field": "s", "type": "nominal",
              "scale": {
                "domain": ["Shenzhen Bay Port", "Window of the World", "Shenzhen North Railway Station", "Moon Bay", "Time-of-use Tariff"],
                "range": [[1, 0], [1, 0], [1, 0], [1, 0], [14, 12]]
              },
              "legend": {"title": null, "orient": "none", "legendX": -4, "legendY": -178, "direction": "horizontal", "columns": 5}
            }
          }
        },
        {
          "data": {"name": "tariff"},
          "mark": {"type": "line", "interpolate": "step-after", "strokeWidth": 6, "strokeCap": "round"},
          "encoding": {
            "x": {"field": "m", "type": "quantitative"},
            "y": {
              "field": "p", "type": "quantitative",
              "scale": {"domain": [0, 1.1], "nice": false},
              "axis": {"title": "CNY", "orient": "right", "values": [0, 0.2, 0.4, 0.6, 0.8, 1], "format": "~g", "grid": false, "labelPadding": 32, "titlePadding": 32}
            },
            "color": {"field": "s", "type": "nominal"},
            "strokeDash": {"field": "s", "type": "nominal"}
          }
        }
      ],
      "resolve": {"scale": {"y": "independent"}}
    }
  ],
  "resolve": {"scale": {"color": "independent", "strokeDash": "independent"}},
  "config": {
    "font": "Lato",
    "view": {"stroke": null},
    "axis": {
      "labelFont": "Lato", "labelFontSize": 48, "labelColor": "black",
      "titleFont": "Lato", "titleFontSize": 50, "titleFontWeight": "bold", "titleColor": "black",
      "domainColor": "#868686", "domainWidth": 4,
      "tickColor": "#868686", "tickWidth": 4, "tickSize": 13,
      "gridColor": "#BFBFBF", "gridWidth": 2.5
    },
    "legend": {
      "labelFont": "Lato", "labelFontSize": 45, "labelColor": "black",
      "symbolType": "stroke", "symbolSize": 15000, "symbolStrokeWidth": 5,
      "labelOffset": 14, "columnPadding": 49, "labelLimit": 1000
    },
    "title": {"font": "Liberation Serif", "fontSize": 70, "fontWeight": "normal", "color": "black"}
  }
}
